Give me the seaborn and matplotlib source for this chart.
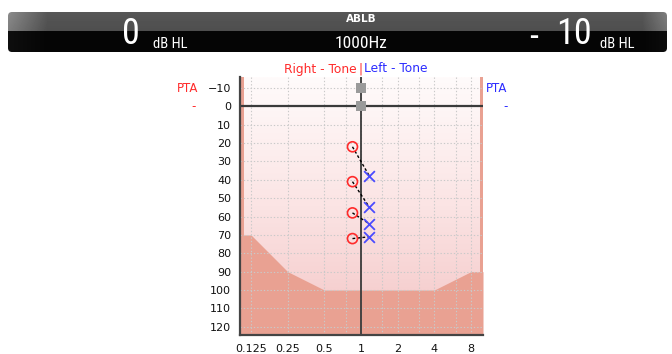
import numpy as np
import matplotlib
matplotlib.use("Agg")
import matplotlib.pyplot as plt
from matplotlib import font_manager as fm
from matplotlib.patches import FancyBboxPatch
from matplotlib.colors import LinearSegmentedColormap
import seaborn as sns

# ---- data -------------------------------------------------------------
freq_ticks = [0.125, 0.25, 0.5, 1, 2, 4, 8]
freq_labels = ["0.125", "0.25", "0.5", "1", "2", "4", "8"]
freq_minor = [0.75, 1.5, 3, 6]
level_ticks = list(range(-10, 130, 10))

# shaded (out-of-range) region boundary
limit_freqs = [0.125, 0.25, 0.5, 1, 2, 4, 8]
limit_levels = [70, 90, 100, 100, 100, 100, 90]

# ABLB balance results at 1000 Hz
right_levels = [22, 41, 58, 72]   # right ear, circles
left_levels = [38, 55, 64, 71]    # left ear, crosses
ref_levels = [-10, 0]             # gray reference squares

right_db = 0
left_db = -10
test_freq_hz = 1000

RED = "#ff2a2a"
BLUE = "#2b2bff"
XBLUE = "#4a4aff"
SALMON = "#e9a192"
DARK = "#3a3a3a"

sns.set_theme(style="white")
plt.rcParams["font.family"] = ["DejaVu Sans"]

# pick a narrow face for the header readouts
names = {f.name for f in fm.fontManager.ttflist}
narrow_kw = {"family": ["DejaVu Sans"]}
for cand in ["Liberation Sans Narrow", "Roboto Condensed", "DejaVu Sans Condensed"]:
    if cand in names:
        narrow_kw = {"family": [cand, "DejaVu Sans"]}
        break
else:
    if any(f.name == "DejaVu Sans" and f.stretch == "condensed"
           for f in fm.fontManager.ttflist):
        narrow_kw = {"family": ["DejaVu Sans"], "fontstretch": "condensed"}

W, H = 672, 354
fig = plt.figure(figsize=(W / 100, H / 100), dpi=100)


def fx(px):
    return px / W


def fy(py):
    return 1 - py / H


# ---- header bar ---------------------------------------------------------
hx0, hy0, hw, hh = 8, 12, 659, 40
hax = fig.add_axes([fx(hx0), fy(hy0 + hh), hw / W, hh / H])
hax.set_xlim(0, hw)
hax.set_ylim(hh, 0)
hax.axis("off")
top = 19
vert = np.linspace(0.34, 0.27, hh)
horiz = np.ones(hw)
horiz[:40] = np.linspace(1.6, 1.0, 40)
horiz[-25:] = np.linspace(1.0, 1.45, 25)
img = np.clip(vert[:, None] * horiz[None, :], 0, 1)
img[top:, :] = np.clip(0.02 + 0.06 * (horiz[None, :] - 1), 0, 1)
im = hax.imshow(img, cmap="gray", vmin=0, vmax=1, extent=[0, hw, hh, 0],
                aspect="auto", interpolation="bilinear")
clip = FancyBboxPatch((0, 0), hw, hh, boxstyle="round,pad=0,rounding_size=4",
                      transform=hax.transData, facecolor="none", edgecolor="none")
hax.add_patch(clip)
im.set_clip_path(clip)

fig.text(fx(130.5), fy(34), str(right_db), color="white", fontsize=26,
         ha="center", va="center", **narrow_kw)
fig.text(fx(153), fy(47.5), "dB HL", color="white", fontsize=10.5,
         ha="left", va="baseline", **narrow_kw)
fig.text(fx(361), fy(19), "ABLB", color="white", fontsize=7.5,
         fontweight="bold", ha="center", va="center")
fig.text(fx(361), fy(43.5), f"{test_freq_hz}Hz", color="white", fontsize=12.5,
         ha="center", va="center", **narrow_kw)
fig.text(fx(533.5), fy(37.5), "-", color="white", fontsize=26,
         ha="center", va="center", **narrow_kw)
fig.text(fx(573.5), fy(34), str(abs(left_db)), color="white", fontsize=26,
         ha="center", va="center", **narrow_kw)
fig.text(fx(600), fy(47.5), "dB HL", color="white", fontsize=10.5,
         ha="left", va="baseline", **narrow_kw)

# ---- audiogram ---------------------------------------------------------
ax = fig.add_axes([fx(240), fy(335), 243 / W, 258 / H])
ax.set_xscale("log", base=2)
xmin, xmax = 0.1015, 10.05
ymin, ymax = -16, 124.5
ax.set_xlim(xmin, xmax)
ax.set_ylim(ymax, ymin)

# background gradient, white at the top to pale pink at the bottom
grad = LinearSegmentedColormap.from_list("bg", ["#fffbfb", "#fbe4e4", "#f4c6c6"])
ax.imshow(np.linspace(0, 1, 256)[:, None], cmap=grad, extent=[0, 1, 0, 1],
          origin="upper", transform=ax.transAxes, aspect="auto", zorder=0.1)

# shaded region below the limit curve
fill_x = [xmin] + limit_freqs + [xmax]
fill_y = [limit_levels[0]] + limit_levels + [limit_levels[-1]]
ax.fill_between(fill_x, fill_y, ymax, color=SALMON, lw=0, zorder=0.2)
oct_px = 220 / 6
ax.axvspan(xmin, xmin * 2 ** (4 / oct_px), color=SALMON, lw=0, zorder=0.2)
ax.axvspan(xmax * 2 ** (-3 / oct_px), xmax, color=SALMON, lw=0, zorder=0.2)

# ticks and grid
ax.set_xticks(freq_ticks)
ax.set_xticklabels(freq_labels)
ax.set_xticks(freq_minor, minor=True)
ax.set_yticks(level_ticks)
ax.set_yticklabels([str(v).replace("-", "\u2212") for v in level_ticks])
ax.set_axisbelow("line")
ax.grid(True, which="both", color="#c9c9c9", lw=0.8, ls=(0, (1.2, 1.8)), zorder=0.5)

# axis lines at 0 dB and 1 kHz
ax.axhline(0, color=DARK, lw=1.6, zorder=2)
ax.axvline(1, color=DARK, lw=1.3, zorder=2)

# ABLB results
off = 2 ** (8.5 / oct_px)
r_x = [1 / off] * len(right_levels)
l_x = [off] * len(left_levels)
for rx, ry, lx, ly in zip(r_x, right_levels, l_x, left_levels):
    ax.plot([rx, lx], [ry, ly], color="black", lw=1.0, ls=(0, (2, 1.6)), zorder=3)

sns.scatterplot(x=[1] * len(ref_levels), y=ref_levels, marker="s", s=55,
                color="#9a9a9a", edgecolor="#9a9a9a", linewidth=0, ax=ax, zorder=4)
sns.scatterplot(x=r_x, y=right_levels, marker="o", s=52, facecolor="none",
                edgecolor=RED, linewidth=1.2, ax=ax, zorder=4)
sns.scatterplot(x=l_x, y=left_levels, marker="x", s=60, color=XBLUE,
                linewidth=1.3, ax=ax, zorder=4)

# axes styling
for side in ["top", "right"]:
    ax.spines[side].set_visible(False)
for side in ["left", "bottom"]:
    ax.spines[side].set_color("#444444")
    ax.spines[side].set_linewidth(1.6)
ax.tick_params(axis="both", which="both", direction="out", color="#333333",
               width=1.2, labelsize=8, labelcolor="#111111")
ax.tick_params(axis="y", length=4.3, pad=2)
ax.tick_params(axis="x", which="both", length=5, pad=1.5)

# titles and PTA labels
fig.text(fx(357), fy(69), "Right - Tone", color=RED, fontsize=8.8,
         ha="right", va="center")
fig.text(fx(360.3), fy(69), "|", color=RED, fontsize=8.8, ha="center", va="center")
fig.text(fx(364), fy(69), "Left - Tone", color=BLUE, fontsize=8.8,
         ha="left", va="center")
fig.text(fx(198), fy(88.5), "PTA", color=RED, fontsize=8.5, ha="right", va="center")
fig.text(fx(196), fy(106.5), "-", color=RED, fontsize=8.5, ha="right", va="center")
fig.text(fx(486), fy(88.5), "PTA", color=BLUE, fontsize=8.5, ha="left", va="center")
fig.text(fx(508), fy(106.5), "-", color=BLUE, fontsize=8.5, ha="right", va="center")

fig.savefig("out.png", dpi=100)
